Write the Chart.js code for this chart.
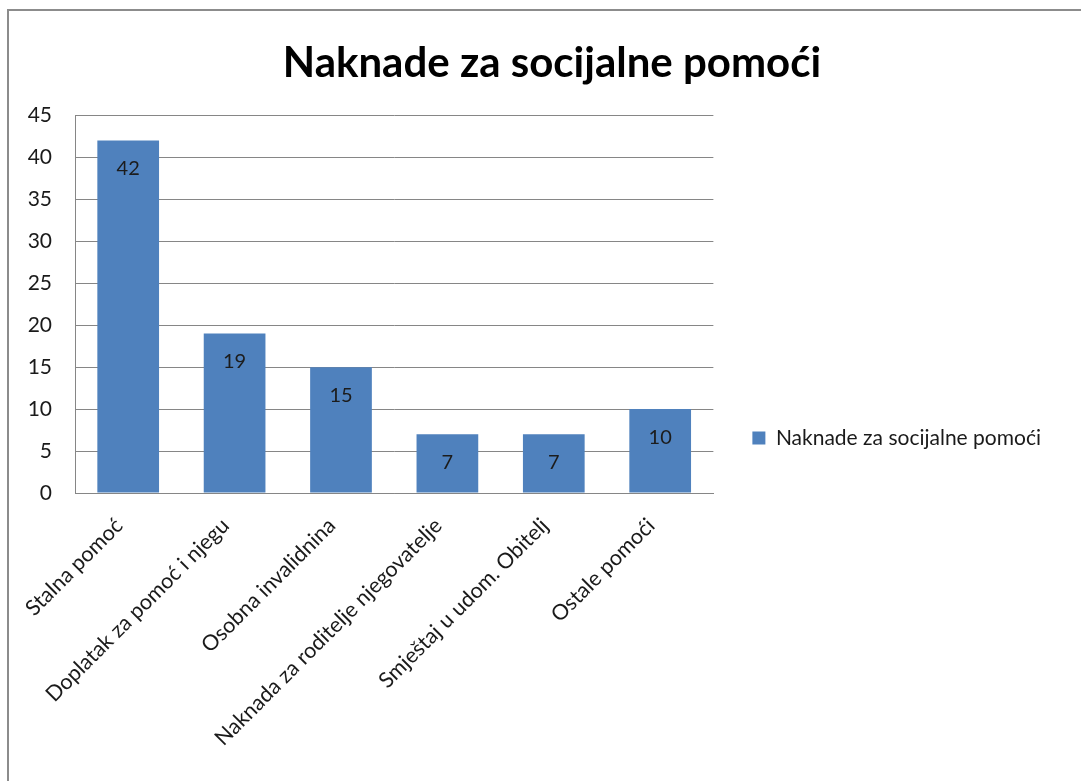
<!DOCTYPE html>
<html>
<head>
<meta charset="utf-8">
<script src="https://cdn.jsdelivr.net/npm/chart.js@4"></script>
<style>
  html, body { margin: 0; padding: 0; background: #fff; }
  #wrap { width: 1081px; height: 781px; position: relative; }
</style>
</head>
<body>
<div id="wrap"><canvas id="pomociChart"></canvas></div>
<script>
// kategorije i vrijednosti
const categories = [
  "Stalna pomoć",
  "Doplatak za pomoć i njegu",
  "Osobna invalidnina",
  "Naknada za roditelje njegovatelje",
  "Smještaj u udom. Obitelj",
  "Ostale pomoći",
];
const values = [42, 19, 15, 7, 7, 10];
const seriesName = "Naknade za socijalne pomoći";
const yTicks = [0, 5, 10, 15, 20, 25, 30, 35, 40, 45];

const fontFamily = "Lato, 'Open Sans', sans-serif";

// okvir oko grafikona
const framePlugin = {
  id: "frame",
  afterLayout(chart) {
    // naslov centriran kao u originalu
    if (chart.titleBlock) {
      chart.titleBlock.right = chart.width - 4;
    }
    // legenda malo niže
    if (chart.legend) {
      chart.legend.top += 45;
      chart.legend.bottom += 45;
    }
  },
  beforeDraw(chart) {
    const c = chart.ctx;
    c.save();
    c.fillStyle = "#fff";
    c.fillRect(0, 0, chart.width, chart.height);
    c.strokeStyle = "#8c8c8c";
    c.lineWidth = 2;
    c.beginPath();
    c.moveTo(8, chart.height);
    c.lineTo(8, 10);
    c.lineTo(chart.width, 10);
    c.stroke();
    c.restore();
  },
};

// oznake vrijednosti unutar stupaca
const valueLabels = {
  id: "valueLabels",
  afterDatasetsDraw(chart) {
    const c = chart.ctx;
    const meta = chart.getDatasetMeta(0);
    c.save();
    c.font = "20px " + fontFamily;
    c.fillStyle = "#1c1c1c";
    c.textAlign = "center";
    c.textBaseline = "middle";
    meta.data.forEach(function (bar, i) {
      c.fillText(String(values[i]), bar.x, bar.y + 28);
    });
    c.restore();
  },
};

const ctx = document.getElementById("pomociChart").getContext("2d");
const chart = new Chart(ctx, {
  type: "bar",
  data: {
    labels: categories,
    datasets: [
      {
        label: seriesName,
        data: values,
        backgroundColor: "#4F81BD",
        borderWidth: 0,
        categoryPercentage: 1,
        barPercentage: 0.58,
      },
    ],
  },
  options: {
    responsive: true,
    maintainAspectRatio: false,
    animation: false,
    layout: {
      padding: { left: 27, top: 20, right: 30, bottom: 15 },
    },
    scales: {
      x: {
        grid: { display: false },
        border: { display: true, color: "#868686" },
        afterFit(scale) {
          scale.height = 273;
          scale.paddingLeft = 0;
          scale.paddingRight = 0;
        },
        ticks: {
          minRotation: 45,
          maxRotation: 45,
          color: "#1a1a1a",
          padding: 12,
          labelOffset: -9,
          font: { family: fontFamily, size: 21.5 },
        },
      },
      y: {
        min: 0,
        max: 45,
        afterFit(scale) {
          scale.width = 48;
        },
        afterBuildTicks(scale) {
          scale.ticks = yTicks.map(function (v) { return { value: v }; });
        },
        grid: { color: "#868686", drawTicks: false },
        border: { display: true, color: "#868686" },
        ticks: {
          color: "#1a1a1a",
          padding: 23,
          font: { family: fontFamily, size: 21 },
        },
      },
    },
    plugins: {
      title: {
        display: true,
        text: seriesName,
        color: "#000",
        font: { family: fontFamily, size: 42, weight: "bold" },
        padding: { top: 18, bottom: 27 },
      },
      legend: {
        position: "right",
        maxWidth: 338,
        labels: {
          boxWidth: 13,
          boxHeight: 13,
          padding: 39,
          color: "#1a1a1a",
          font: { family: fontFamily, size: 21 },
        },
      },
      tooltip: { enabled: false },
    },
  },
  plugins: [framePlugin, valueLabels],
});
</script>
</body>
</html>
